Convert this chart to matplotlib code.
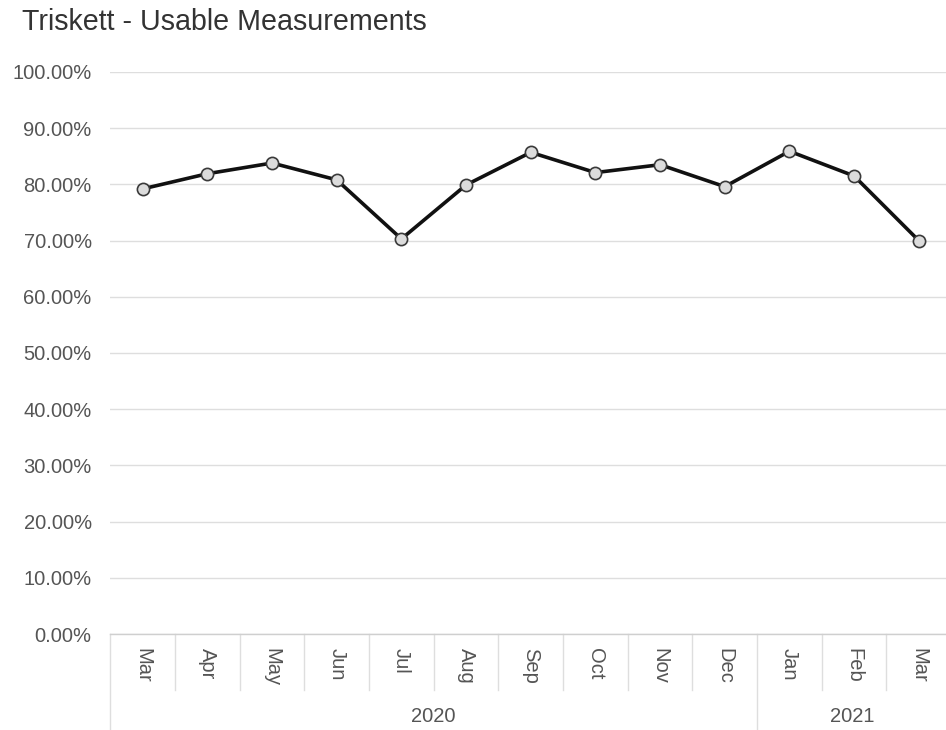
import matplotlib
matplotlib.use("Agg")
import matplotlib.pyplot as plt
import matplotlib.transforms as mtransforms
from matplotlib.ticker import FuncFormatter

plt.rcParams["font.family"] = ["Liberation Sans", "DejaVu Sans"]

months = ["Mar", "Apr", "May", "Jun", "Jul", "Aug", "Sep",
          "Oct", "Nov", "Dec", "Jan", "Feb", "Mar"]
years = ["2020", "2021"]
# number of months belonging to each year, in order
year_counts = [10, 3]
usable = [79.2, 81.9, 83.8, 80.8, 70.3, 79.9, 85.7,
          82.1, 83.5, 79.6, 85.9, 81.5, 70.0]
y_ticks = [0, 10, 20, 30, 40, 50, 60, 70, 80, 90, 100]

fig = plt.figure(figsize=(9.46, 7.30), dpi=100)
ax = fig.add_axes([0.1167, 0.1315, 0.8887, 0.7699])

x = list(range(len(months)))
ax.plot(x, usable,
        color="#111111",
        lw=2.6,
        marker="o",
        markersize=8.8,
        markerfacecolor="#dcdcdc",
        markeredgecolor="#3a3a3a",
        markeredgewidth=1.2,
        zorder=3)

ax.set_xlim(-0.5, len(months) - 0.5)
ax.set_ylim(0, 100)
ax.set_yticks(y_ticks)
ax.yaxis.set_major_formatter(FuncFormatter(lambda v, p: "{:.2f}%".format(v)))
ax.grid(axis="y", color="#dedede", lw=1)
ax.set_axisbelow(True)
for side in ["top", "right", "left"]:
    ax.spines[side].set_visible(False)
ax.spines["bottom"].set_color("#cfcfcf")
ax.spines["bottom"].set_linewidth(1)

ax.set_xticks(x)
ax.set_xticklabels(months, rotation=-90)
ax.tick_params(axis="x", length=0, pad=10, labelsize=14.5, labelcolor="#555555")
ax.tick_params(axis="y", length=0, pad=13.5, labelsize=14.5, labelcolor="#555555")

# category separators below the axis
trans = mtransforms.blended_transform_factory(ax.transData, ax.transAxes)
px = 1.0 / (0.7699 * 730)
month_sep = -56 * px
bottom = -96 * px
year_edges = [-0.5]
for count in year_counts:
    year_edges.append(year_edges[-1] + count)
for i in range(len(months)):
    edge = i - 0.5
    low = bottom if edge in year_edges else month_sep
    ax.plot([edge, edge], [0, low], color="#dedede", lw=1,
            transform=trans, clip_on=False)

for i, year in enumerate(years):
    start = year_edges[i]
    end = min(year_edges[i + 1], len(months) - 0.5 - 0.05)
    ax.text((start + end) / 2, -82 * px, year, transform=trans,
            ha="center", va="center", fontsize=14.5, color="#555555")

fig.text(0.023, 0.959, "Triskett - Usable Measurements",
         fontsize=20.6, color="#333333", va="baseline", ha="left")

fig.savefig("out.png", dpi=100)
